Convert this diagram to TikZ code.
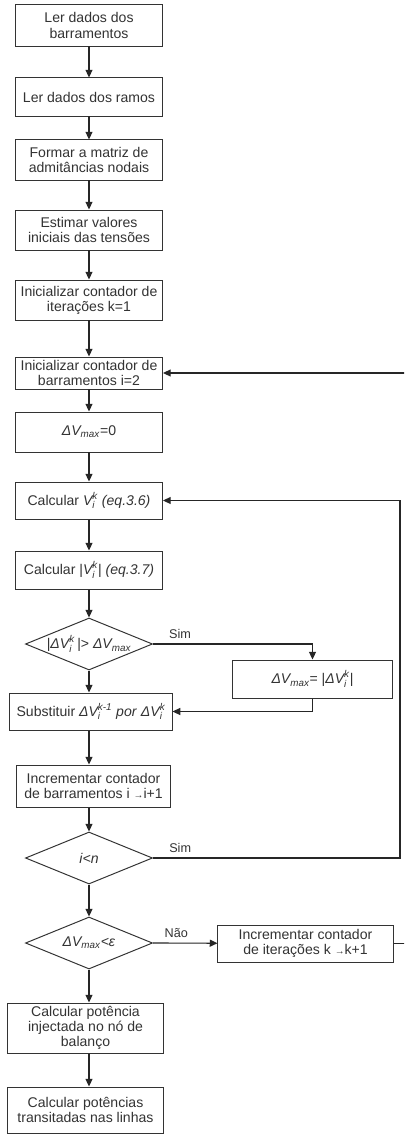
\documentclass[tikz,border=0pt]{standalone}
\usepackage{amsmath}
\usepackage{fontspec}
\setmainfont{Liberation Sans}
\usepackage{tikz}
\usetikzlibrary{positioning, arrows.meta, shapes.geometric}

\newcommand{\Vik}[1]{$\textit{#1}^{\textit{k}}_{\textit{i}}$}
\newcommand{\dVik}[1]{$\textit{ΔV}^{\textit{#1}}_{\textit{i}}$}
\newcommand{\Vmax}{$\textit{ΔV}_{\textit{max}}$}
\newcommand{\arrw}{{\scriptsize →}}

\begin{document}
\begin{tikzpicture}[x=0.025cm, y=-0.025cm, font=\fontsize{10}{10.7}\selectfont,
  box/.style={rectangle, draw=black!80, line width=0.7pt, text=black!80, align=center, inner sep=1pt, minimum width=3.675cm},
  dec/.style={diamond, draw=black!80, line width=0.7pt, text=black!80, inner sep=0pt, shape aspect=2.44, minimum width=3.175cm, minimum height=1.3cm},
  arr/.style={-{Triangle[length=5.5pt, width=5pt]}, line width=0.8pt, black!85},
  lbl/.style={text=black!80, font=\fontsize{9}{10}\selectfont}]
\useasboundingbox (0,0) rectangle (404,1135);
\fill [white] (0,0) rectangle (404,1135);
\clip (0,0) rectangle (404,1135);

\node [box, minimum height=1.025cm] (bar) at (89,25.5) {Ler dados dos\\barramentos};
\node [box, minimum height=0.95cm] (ram) at (89,97) {Ler dados dos ramos};
\node [box, minimum height=1cm] (ybus) at (89,160) {Formar a matriz de\\admitâncias nodais};
\node [box, minimum height=1cm] (tens) at (89,230) {Estimar valores\\iniciais das tensões};
\node [box, minimum height=1cm] (itk) at (89,300) {Inicializar contador de\\iterações k=1};
\node [box, minimum height=0.8cm] (bari) at (89,373) {Inicializar contador de\\barramentos i=2};
\node [box, minimum height=1cm] (dvz) at (89,432) {\Vmax=0};
\node [box, minimum height=0.925cm] (calcv) at (89,500.5) {Calcular \Vik{V} \textit{(eq.3.6)}};
\node [box, minimum height=0.95cm] (calcm) at (89,570) {Calcular |\Vik{V}| \textit{(eq.3.7)}};
\node [dec] (test) at (89,644) {|\dVik{k}\,|> \Vmax};
\node [box, minimum width=3.975cm, minimum height=0.95cm] (dvmax) at (312.5,679) {\Vmax= |\dVik{k}|};
\node [box, minimum width=4.05cm, minimum height=0.925cm] (subst) at (91,711.5) {Substituir \dVik{k-1} \textit{por} \dVik{k}};
\node [box, minimum width=3.825cm, minimum height=1.05cm] (inci) at (93.5,786) {Incrementar contador\\de barramentos i \arrw i+1};
\node [dec] (iltn) at (89,858) {\textit{i<n}};
\node [dec] (conv) at (89,943) {\Vmax\textit{<ε}};
\node [box, minimum width=4.375cm, minimum height=0.925cm] (inck) at (305.5,943.5) {Incrementar contador\\de iterações k \arrw k+1};
\node [box, minimum width=3.875cm, minimum height=1.25cm] (pinj) at (85.5,1028) {Calcular potência\\injectada no nó de\\balanço};
\node [box, minimum width=3.875cm, minimum height=1.15cm] (flux) at (85.5,1110) {Calcular potências\\transitadas nas linhas};

\coordinate (lpv) at (400,858);
\coordinate (lpk) at (412,943.5);

\draw [arr] (bar) -- (ram);
\draw [arr] (ram) -- (ybus);
\draw [arr] (ybus) -- (tens);
\draw [arr] (tens) -- (itk);
\draw [arr] (itk) -- (bari);
\draw [arr] (bari) -- (dvz);
\draw [arr] (dvz) -- (calcv);
\draw [arr] (calcv) -- (calcm);
\draw [arr] (calcm) -- (test);
\draw [arr] (test) -- (test |- subst.north);
\draw [arr] (test.east) -- node [lbl, above, pos=0.17] {Sim} (test.east -| dvmax) -- (dvmax);
\draw [arr] (dvmax) |- (subst);
\draw [arr] (subst.south -| test) -- (test |- inci.north);
\draw [arr] (inci.south -| test) -- (iltn);

% laco dos barramentos
\draw [arr] (iltn.east) -- node [lbl, above, pos=0.11] {Sim} (lpv) |- (calcv);
\draw [arr] (iltn) -- (conv);
\draw [arr] (conv.east) -- node [lbl, above, pos=0.36] {Não} (inck);
% laco das iteracoes
\draw [arr] (inck) -- (lpk) |- (bari);

\draw [arr] (conv) -- (conv |- pinj.north);
\draw [arr] (pinj.south -| conv) -- (conv |- flux.north);
\end{tikzpicture}
\end{document}
